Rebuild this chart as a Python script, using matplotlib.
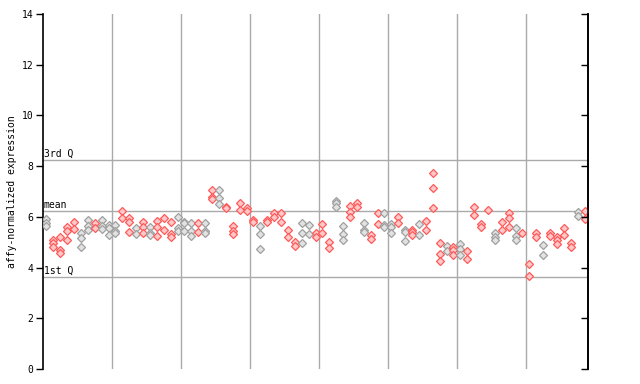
import matplotlib
matplotlib.use("Agg")
import matplotlib.pyplot as plt

# ---- data ----
values = [
    [5.90, 5.77, 5.64], [5.09, 4.96, 4.80], [5.19, 4.69, 4.56], [5.61, 5.45, 5.09],
    [5.80, 5.53], [5.37, 5.15, 4.80], [5.88, 5.64, 5.48], [5.77, 5.55],
    [5.88, 5.64, 5.51], [5.66, 5.55, 5.27], [5.66, 5.45, 5.37], [6.23, 5.97],
    [5.97, 5.81, 5.40], [5.55, 5.32], [5.80, 5.59, 5.35], [5.59, 5.37, 5.27],
    [5.82, 5.59, 5.24], [5.97, 5.50], [5.80, 5.32, 5.22], [5.98, 5.55, 5.45],
    [5.81, 5.74, 5.45], [5.74, 5.45, 5.24], [5.74, 5.40], [5.77, 5.45, 5.35],
    [7.06, 6.77, 6.69], [7.06, 6.76, 6.51], [6.40, 6.36], [5.64, 5.45, 5.32],
    [6.53, 6.27], [6.33, 6.24], [5.88, 5.80], [5.64, 5.32, 4.72],
    [5.88, 5.80], [6.16, 5.98], [6.16, 5.78], [5.50, 5.19],
    [5.02, 4.85], [5.74, 5.35, 4.96], [5.66, 5.32], [5.35, 5.22],
    [5.72, 5.37], [5.02, 4.78], [6.64, 6.53, 6.38], [5.64, 5.32, 5.09],
    [6.43, 6.21, 5.98], [6.53, 6.40], [5.77, 5.48, 5.40], [5.27, 5.14],
    [6.14, 5.72], [6.14, 5.68, 5.59], [5.72, 5.61, 5.35], [6.01, 5.77],
    [5.48, 5.40, 5.05], [5.48, 5.40, 5.27], [5.71, 5.30], [5.85, 5.48],
    [7.74, 7.13, 6.33], [4.96, 4.52, 4.26], [4.85, 4.66], [4.80, 4.69, 4.48],
    [4.93, 4.72, 4.48], [4.66, 4.32], [6.40, 6.06], [5.71, 5.61],
    [6.27], [5.35, 5.22, 5.09], [5.81, 5.50], [6.14, 5.94, 5.59],
    [5.55, 5.24, 5.09], [5.35], [4.14, 3.67], [5.37, 5.22],
    [4.89, 4.48], [5.37, 5.24], [5.19, 5.09, 4.93], [5.55, 5.28],
    [4.96, 4.80], [6.21, 6.03], [6.24, 5.90],
]
series = "GRRRRGGRGGGRRGRGRRRGGGRGRGRRRRRGRRRRRGGRRRGGRRGRRGGRGRGRRRGRGRRRRGRRGRRRGRRRRGR"

q1, mean_v, q3 = 3.63, 6.23, 8.24
yticks = [0, 2, 4, 6, 8, 10, 12, 14]
vgrid = [10, 20, 30, 40, 50, 60, 70]

RED = "#ff5a5a"
RED_FILL = "#ffc8c8"
GREY = "#a0a0a0"
GREY_FILL = "#e2e2e2"

fig = plt.figure(figsize=(6.4, 3.84), dpi=100)
ax = fig.add_axes([43/640, 15/384, 545/640, 355/384])
mono = "DejaVu Sans Mono"

for x in vgrid:
    ax.axvline(x, color="#aaaaaa", lw=1, zorder=1)
for y, lab in [(q3, "3rd Q"), (mean_v, "mean"), (q1, "1st Q")]:
    ax.axhline(y, color="#aaaaaa", lw=1, zorder=1)
    ax.text(0.1, y + 0.05, lab, family=mono, fontsize=7, va="bottom", ha="left", zorder=2)

for i, vals in enumerate(values):
    c, f = (GREY, GREY_FILL) if series[i] == "G" else (RED, RED_FILL)
    ax.plot([i + 0.5] * len(vals), vals, ls="none", marker="D", ms=3.6,
            mfc=f, mec=c, mew=0.9, zorder=3)

ax.set_xlim(0, len(values))
ax.set_ylim(0, 14)
ax.set_xticks([])
ax.set_yticks(yticks)
ax.set_yticklabels([str(t) for t in yticks], family=mono, fontsize=7)
ax.tick_params(axis="y", direction="out", length=5, width=1, pad=2)
ax.spines["top"].set_visible(False)
ax.spines["bottom"].set_visible(False)
ax.spines["left"].set_linewidth(1.2)
ax.spines["right"].set_linewidth(1.2)

ax2 = ax.twinx()
ax2.set_ylim(0, 14)
ax2.set_yticks(yticks)
ax2.set_yticklabels([])
ax2.tick_params(axis="y", direction="in", length=5, width=1)
for s in ["top", "bottom", "left"]:
    ax2.spines[s].set_visible(False)
ax2.spines["right"].set_linewidth(1.2)

fig.text(12/640, 1 - 192/384, "affy-normalized expression", family=mono, fontsize=7,
         rotation=90, ha="center", va="center")

fig.savefig("out.png", dpi=100)
